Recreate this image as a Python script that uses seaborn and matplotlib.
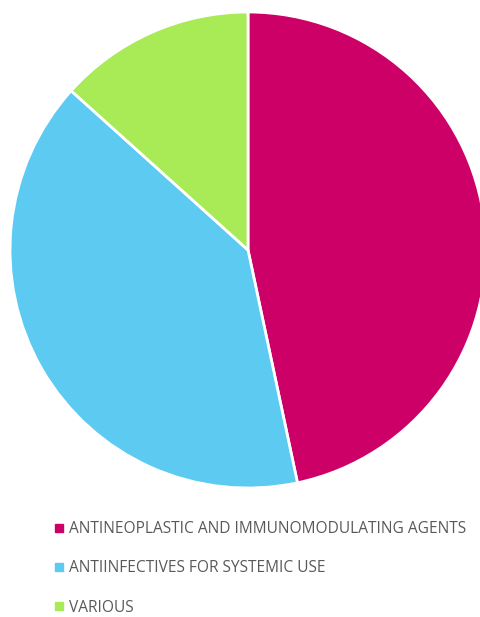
import matplotlib
matplotlib.use("Agg")
import matplotlib.pyplot as plt
import seaborn as sns
from matplotlib.lines import Line2D

sns.set_theme(style="white")
plt.rcParams['font.family'] = ['Open Sans', 'DejaVu Sans']

categories = ["ANTINEOPLASTIC AND IMMUNOMODULATING AGENTS",
              "ANTIINFECTIVES FOR SYSTEMIC USE",
              "VARIOUS"]
values = [7, 6, 2]
colors = ["#CC0066", "#5DCAF2", "#A9EA57"]

W, H = 480, 617
fig = plt.figure(figsize=(W / 100, H / 100), dpi=100)
cx, cy, r = 248, 250, 238
ax = fig.add_axes([(cx - r) / W, 1 - (cy + r) / H, 2 * r / W, 2 * r / H])
ax.pie(values, colors=colors, startangle=90, counterclock=False,
       wedgeprops=dict(edgecolor="white", linewidth=2))
ax.set_xlim(-1.0, 1.0)
ax.set_ylim(-1.0, 1.0)
ax.set_aspect("equal")
ax.axis("off")

handles = [Line2D([0], [0], marker="s", linestyle="none", markersize=6,
                  markerfacecolor=c, markeredgecolor=c) for c in colors]
leg = fig.legend(handles, categories, loc="upper left",
                 bbox_to_anchor=(55 / W, 1 - 521 / H), frameon=False,
                 fontsize=11.2, labelspacing=1.5, handlelength=0.55,
                 handletextpad=0.32, borderpad=0, borderaxespad=0)
for t in leg.get_texts():
    t.set_color("#595959")

fig.savefig("out.png", dpi=100, facecolor="white")
